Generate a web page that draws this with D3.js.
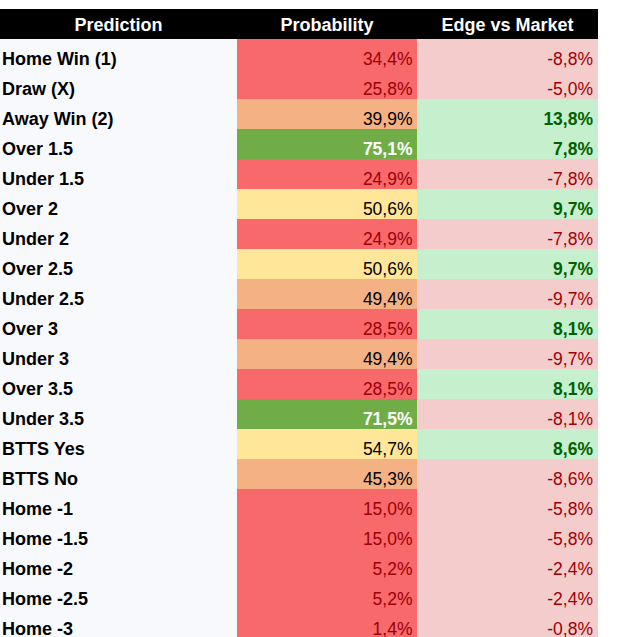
<!DOCTYPE html>
<html><head><meta charset="utf-8">
<script src="https://cdn.jsdelivr.net/npm/d3@7"></script>
<style>html,body{margin:0;padding:0;background:#fff;overflow:hidden}</style>
</head><body>
<svg id="c" width="622" height="637"></svg>
<script>
const headers = ["Prediction", "Probability", "Edge vs Market"];
const predictions = ["Home Win (1)","Draw (X)","Away Win (2)","Over 1.5","Under 1.5","Over 2","Under 2","Over 2.5","Under 2.5","Over 3","Under 3","Over 3.5","Under 3.5","BTTS Yes","BTTS No","Home -1","Home -1.5","Home -2","Home -2.5","Home -3"];
const probability = [34.4,25.8,39.9,75.1,24.9,50.6,24.9,50.6,49.4,28.5,49.4,28.5,71.5,54.7,45.3,15.0,15.0,5.2,5.2,1.4];
const edge = [-8.8,-5.0,13.8,7.8,-7.8,9.7,-7.8,9.7,-9.7,8.1,-9.7,8.1,-8.1,8.6,-8.6,-5.8,-5.8,-2.4,-2.4,-0.8];

const svg = d3.select("#c");
const font = "'Liberation Sans', Arial, sans-serif";
const colEdges = [0, 237, 417, 598];
const x = d3.scaleOrdinal().domain(headers).range(colEdges.slice(0,3));
const colW = h => colEdges[headers.indexOf(h)+1] - colEdges[headers.indexOf(h)];
const headTop = 9, headH = 30, rowH = 30;
const y = d3.scaleBand().domain(predictions).range([headTop+headH, headTop+headH+rowH*predictions.length]).padding(0);

const fmt = v => v.toFixed(1).replace(".", ",") + "%";
const probBg = d3.scaleThreshold().domain([35, 50, 70]).range(["#f8696b", "#f4b183", "#ffe699", "#70ad47"]);
const probFg = d3.scaleThreshold().domain([35, 50, 70]).range(["#9c0006", "#000000", "#000000", "#ffffff"]);

// header
svg.append("rect").attr("x", 0).attr("y", headTop).attr("width", colEdges[3]).attr("height", headH).attr("fill", "#000");
svg.selectAll("text.h").data(headers).join("text").attr("class","h")
  .attr("x", h => x(h) + colW(h)/2).attr("y", headTop + 22)
  .attr("text-anchor","middle").attr("fill","#fff")
  .attr("font-family", font).attr("font-weight","bold").attr("font-size","18px").text(h => h);

const rows = predictions.map((p,i) => ({p, prob: probability[i], edge: edge[i]}));
const g = svg.selectAll("g.r").data(rows).join("g").attr("class","r").attr("transform", d => `translate(0,${y(d.p)})`);

g.append("rect").attr("x", x(headers[0])).attr("width", colW(headers[0])).attr("height", y.bandwidth()).attr("fill", "#f8f9fd");
g.append("rect").attr("x", x(headers[1])).attr("width", colW(headers[1])).attr("height", y.bandwidth()).attr("fill", d => probBg(d.prob));
g.append("rect").attr("x", x(headers[2])).attr("width", colW(headers[2])).attr("height", y.bandwidth()).attr("fill", d => d.edge > 0 ? "#c6efce" : "#f4cccc");

const base = y.bandwidth() - 4;
g.append("text").attr("x", x(headers[0]) + 2).attr("y", base)
  .attr("font-family", font).attr("font-weight","bold").attr("font-size","18px").attr("fill","#000").text(d => d.p);
g.append("text").attr("x", x(headers[1]) + colW(headers[1]) - 4.5).attr("y", base).attr("text-anchor","end")
  .attr("font-family", font).attr("font-size","17.5px")
  .attr("font-weight", d => d.prob >= 70 ? "bold" : "normal")
  .attr("fill", d => probFg(d.prob)).text(d => fmt(d.prob));
g.append("text").attr("x", x(headers[2]) + colW(headers[2]) - 5).attr("y", base).attr("text-anchor","end")
  .attr("font-family", font).attr("font-size","17.5px")
  .attr("font-weight", d => d.edge > 0 ? "bold" : "normal")
  .attr("fill", d => d.edge > 0 ? "#006100" : "#9c0006").text(d => fmt(d.edge));
</script>
</body></html>
